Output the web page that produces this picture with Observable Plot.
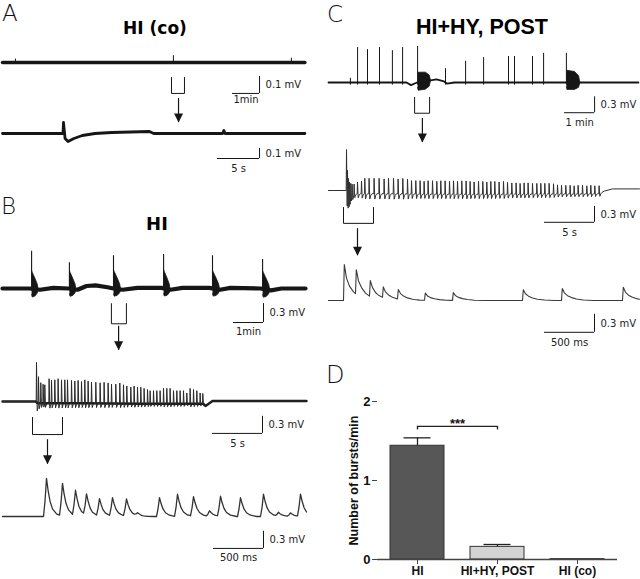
<!DOCTYPE html>
<html><head><meta charset="utf-8">
<script src="https://cdn.jsdelivr.net/npm/d3@7"></script>
<script src="https://cdn.jsdelivr.net/npm/@observablehq/plot@0.6"></script>
<style>
body{margin:0;background:#fff;}
#fig{position:relative;width:640px;height:579px;overflow:hidden;background:#fff;}
.lbl{position:absolute;font-family:"DejaVu Sans",sans-serif;font-weight:200;font-size:23px;line-height:1;color:#111;}
.ttl{position:absolute;font-weight:bold;line-height:1;color:#000;transform:translateX(-50%);white-space:nowrap;}
</style></head><body><div id="fig"></div>
<script>
// ---------------- DATA ----------------
// Panel D: bar chart
const groups = ["HI", "HI+HY, POST", "HI (co)"];
const burstsPerMin = [1.44, 0.16, 0.005];
const burstsSEM = [0.10, 0.03, 0];

// A1: HI (co), minutes / mV
const a1BaseTime = [0, 11.2];
const a1BasemV = [0, 0];
const a1TickTimes = [0.48, 6.33, 10.7];
const a1TickmV = [0.02, 0.04, 0.025];

// A2: HI (co), seconds / mV
const a2Time = [0, 7.2, 7.26, 7.45, 7.8, 8.5, 9.5, 11, 13, 17.5, 18, 26.2, 26.35, 26.5, 36];
const a2mV   = [0, 0, 0.11, -0.05, -0.08, -0.05, -0.02, 0, 0.01, 0.02, 0, 0, 0.03, 0, 0];

// B1: HI, minutes / mV
const b1BurstTimes = [0.97, 2.23, 3.7, 5.37, 7.0, 8.67];
const b1SpikemV = [0.59, 0.41, 0.52, 0.54, 0.52, 0.46];
const b1BlobTopmV = [0.29, 0.29, 0.3, 0.3, 0.29, 0.29];
const b1BlobBottommV = [-0.13, -0.12, -0.12, -0.12, -0.12, -0.13];
const b1BlobDur = [0.22, 0.22, 0.24, 0.22, 0.24, 0.24];
const b1BaseTime = [0, 0.9, 1.25, 1.7, 2.2, 2.5, 2.8, 3.1, 3.5, 3.7, 4.0, 4.5, 5.3, 5.6, 6.0, 6.9, 7.25, 7.6, 8.6, 8.95, 9.3, 10.1];
const b1BasemV = [0, 0, -0.02, 0.01, 0, -0.02, 0.04, 0.05, 0.02, 0, -0.02, 0.01, 0.01, -0.02, 0.01, 0.01, -0.02, 0.01, 0, -0.03, 0, 0];

// B2: HI burst, seconds / mV
const b2SpikeTimes = [3.37, 3.57, 3.8, 4.03, 4.2, 4.63, 4.87, 5.2, 5.53, 5.87, 6.2, 6.47, 6.87, 7.2, 7.53, 7.87, 8.2, 8.53, 8.87, 9.3, 9.73, 10.13, 10.53, 10.87, 11.3, 11.7, 12.07, 12.4, 12.8, 13.13, 13.47, 13.8, 14.13, 14.47, 14.73, 15.07, 15.4, 15.73, 16.07, 16.4, 16.73, 17.07, 17.4, 17.73, 18.07, 18.4, 18.73, 19.07, 19.4, 19.73, 20.0];
const b2SpikemV = [0.70, 0.49, 0.37, 0.34, 0.34, 0.43, 0.41, 0.41, 0.43, 0.41, 0.41, 0.41, 0.40, 0.39, 0.40, 0.38, 0.41, 0.39, 0.37, 0.37, 0.36, 0.37, 0.36, 0.34, 0.34, 0.36, 0.33, 0.31, 0.29, 0.31, 0.29, 0.29, 0.27, 0.25, 0.23, 0.23, 0.23, 0.23, 0.27, 0.27, 0.27, 0.23, 0.23, 0.23, 0.23, 0.19, 0.27, 0.25, 0.23, 0.19, 0.18];
const b2BaseTime = [0, 3.3, 3.5, 8, 14, 20.1, 20.3, 21, 30.4];
const b2BasemV = [0, 0, -0.03, -0.03, -0.04, -0.04, -0.08, 0.01, 0.01];

// B3: HI, milliseconds / mV
const b3PeakTimes = [440, 600, 730, 840, 970, 1100, 1240, 1350, 1570, 1750, 1910, 2070, 2180, 2380, 2610, 2760, 2880, 2980];
const b3PeakmV = [0.67, 0.58, 0.44, 0.37, 0.30, 0.32, 0.30, 0.05, 0.33, 0.39, 0.35, 0.10, 0.35, 0.33, 0.39, 0.07, 0.06, 0.39];
const b3BaseTime = [0, 3040];
const b3BasemV = [0, 0];

// C1: HI+HY POST, minutes / mV
const c1SpikeTimes = [0.73, 0.97, 1.3, 1.7, 2.13, 2.47, 2.97, 3.9, 4.57, 5.17, 6.0, 6.2, 6.8, 7.17, 7.93];
const c1SpikemV = [0.08, 0.66, 0.62, 0.66, 0.6, 0.66, 0.68, 0.26, 0.4, 0.47, 0.49, 0.49, 0.49, 0.55, 0.55];
const c1BurstTimes = [2.97, 7.93];
const c1BlobTopmV = [0.19, 0.23];
const c1BlobBottommV = [-0.15, -0.13];
const c1BlobDur = [0.43, 0.45];
const c1BaseTime = [0, 2.6, 2.75, 2.95, 3.4, 3.6, 3.85, 3.95, 4.2, 10.33];
const c1BasemV = [0, 0, -0.05, 0, 0.04, 0.06, 0.02, -0.02, 0, 0];

// C2: HI+HY POST burst, seconds / mV
const c2SpikeTimes = [1.77, 1.87, 1.97, 2.07, 2.2, 2.33, 2.53, 2.87, 3.27, 3.6, 4.03, 4.53, 5.03, 5.53, 5.97, 6.47, 6.93, 7.4, 7.87, 8.27, 8.7, 9.13, 9.53, 9.93, 10.37, 10.8, 11.2, 11.63, 12.07, 12.47, 12.87, 13.3, 13.73, 14.13, 14.53, 14.97, 15.4, 15.8, 16.2, 16.6, 17.03, 17.47, 17.87, 18.3, 18.73, 19.13, 19.53, 19.93, 20.37, 20.8, 21.2, 21.6, 22.03, 22.47, 22.87, 23.27, 23.7, 24.13, 24.53, 24.93, 25.37, 25.8, 26.2, 26.6, 27.03];
const c2SpikemV = [0.78, 0.62, 0.5, 0.4, 0.3, 0.25, 0.2, 0.22, 0.24, 0.29, 0.29, 0.29, 0.29, 0.28, 0.29, 0.29, 0.28, 0.29, 0.28, 0.25, 0.25, 0.25, 0.24, 0.25, 0.25, 0.24, 0.25, 0.25, 0.24, 0.25, 0.24, 0.25, 0.25, 0.24, 0.23, 0.24, 0.24, 0.23, 0.24, 0.24, 0.23, 0.24, 0.22, 0.21, 0.21, 0.2, 0.21, 0.21, 0.2, 0.2, 0.2, 0.2, 0.2, 0.19, 0.17, 0.16, 0.16, 0.16, 0.15, 0.16, 0.16, 0.15, 0.16, 0.15, 0.15];
const c2BaseTime = [0, 1.75, 2.1, 5, 15, 27.1, 27.6, 28.4, 31.1];
const c2BasemV = [0, 0, -0.06, -0.06, -0.07, -0.06, -0.01, 0.03, 0.03];

// C3: HI+HY POST, milliseconds / mV
const c3EventTimes = [150, 270, 410, 540, 690, 960, 1240, 1940, 2330, 2940];
const c3EventmV = [0.6, 0.41, 0.27, 0.18, 0.16, 0.12, 0.13, 0.18, 0.2, 0.22];
const c3BaseTime = [0, 3110];
const c3BasemV = [0, 0];

// Waveform templates: offsets and relative amplitude
const spikeKernelT_B2 = [0, 0.03, 0.1, 0.2, 0.3];
const spikeKernelV_B2 = [0, 1, -0.2, -0.05, 0];
const spikeKernelT_C2 = [0, 0.03, 0.1, 0.2, 0.32];
const spikeKernelV_C2 = [0, 1, -0.35, -0.1, 0];
const epspKernelT_B3 = [-30, -15, 0, 15, 35, 60, 100, 160];
const epspKernelV_B3 = [0, 0.4, 1, 0.7, 0.4, 0.2, 0.07, 0];
const epspKernelT_C3 = [0, 8, 30, 60, 100, 150, 220, 320];
const epspKernelV_C3 = [0, 1, 0.62, 0.4, 0.24, 0.12, 0.04, 0];
// burst envelopes: B1 tapers (decaying), C1 is box-like
const b1BlobF = [0, 0.1, 0.5, 0.85, 1];
const b1BlobTopShape = [1, 0.9, 0.6, 0.3, 0];
const b1BlobBotShape = [0.7, 1, 0.85, 0.45, 0];
const c1BlobF = [0, 0.04, 0.6, 0.9, 1];
const c1BlobTopShape = [1, 1, 0.9, 0.55, 0];
const c1BlobBotShape = [0.6, 1, 1, 0.7, 0];

// ---------------- DRAWING ----------------
const ink = "#161616";
const fig = document.getElementById("fig");
const traceFont = "DejaVu Sans, sans-serif";

function lerp(xs, ys, x) {
  const n = xs.length;
  if (x <= xs[0]) return ys[0];
  if (x >= xs[n - 1]) return ys[n - 1];
  const i = d3.bisectRight(xs, x);
  const x0 = xs[i - 1], x1 = xs[i];
  return ys[i - 1] + (ys[i] - ys[i - 1]) * (x - x0) / (x1 - x0);
}
function pts(ts, vs) { return ts.map((t, i) => ({t, v: vs[i]})); }
function sumTrace(baseT, baseV, evT, evA, kT, kV) {
  const set = new Set(baseT);
  evT.forEach(te => kT.forEach(k => set.add(+(te + k).toFixed(6))));
  const lo = baseT[0], hi = baseT[baseT.length - 1];
  const times = [...set].filter(t => t >= lo && t <= hi).sort((a, b) => a - b);
  return times.map(t => ({t, v: lerp(baseT, baseV, t) + d3.sum(evT, (te, i) => {
    const d = t - te;
    if (d < kT[0] || d > kT[kT.length - 1]) return 0;
    return evA[i] * lerp(kT, kV, d);
  })}));
}
// closed outline of each burst envelope (top edge forward, bottom edge back)
function blobPolys(times, tops, bottoms, durs, baseT, baseV, shapeF, shapeTop, shapeBot) {
  const rows = [];
  times.forEach((t0, i) => {
    const top = [], bot = [];
    shapeF.forEach((f, j) => {
      const t = t0 + f * durs[i];
      const b = lerp(baseT, baseV, t);
      top.push({k: i, t, v: b + tops[i] * shapeTop[j]});
      bot.push({k: i, t, v: b + bottoms[i] * shapeBot[j]});
    });
    rows.push(...top, ...bot.reverse());
  });
  return rows;
}
function mount(cfg, marks) {
  const {left, top, width, height, x0, kx, y0, ky} = cfg;
  const svg = Plot.plot({
    width, height, marginTop: 0, marginRight: 0, marginBottom: 0, marginLeft: 0,
    x: {type: "linear", domain: [(left - x0) / kx, (left + width - x0) / kx], axis: null},
    y: {type: "linear", domain: [(y0 - top - height) / ky, (y0 - top) / ky], axis: null},
    style: {background: "transparent", overflow: "visible"},
    marks
  });
  Object.assign(svg.style, {position: "absolute", left: left + "px", top: top + "px"});
  fig.appendChild(svg);
}
function scaleBar(sb) {
  const row = [sb];
  return [
    Plot.ruleY(row, {y: "v", x1: d => d.t - d.tLen, x2: "t", stroke: ink, strokeWidth: 1}),
    Plot.ruleX(row, {x: "t", y1: "v", y2: d => d.v + d.vLen, stroke: ink, strokeWidth: 1}),
    Plot.text(row, {x: "t", y: d => d.v + d.vLen / 2, text: "vLabel", dx: 6, textAnchor: "start", fontSize: 10, fontFamily: traceFont, fill: "#222"}),
    Plot.text(row, {x: d => d.t - d.tLen / 2, y: "v", text: "tLabel", dy: sb.gap, fontSize: 10, fontFamily: traceFont, fill: "#222"})
  ];
}
function bracket(b) {
  return Plot.line([[b.t1, b.vTop], [b.t1, b.vBot], [b.t2, b.vBot], [b.t2, b.vTop]],
    {x: d => d[0], y: d => d[1], stroke: ink, strokeWidth: 1});
}
const headDown = {draw(ctx) { ctx.moveTo(0, 0); ctx.lineTo(-4.5, -9); ctx.lineTo(4.5, -9); ctx.closePath(); }};
function arrow(a) {
  return [
    Plot.ruleX([a], {x: "t", y1: "v1", y2: "v2", stroke: ink, strokeWidth: 1.2}),
    Plot.dot([a], {x: "t", y: "v2", symbol: headDown, fill: ink, stroke: "none"})
  ];
}
function blobMark(rows) {
  return Plot.line(rows, {x: "t", y: "v", z: "k", fill: ink, stroke: ink, strokeWidth: 0.8});
}

// ---- A1
mount({left: 0, top: 40, width: 320, height: 85, x0: 2, kx: 27, y0: 62, ky: 170}, [
  Plot.line(pts(a1BaseTime, a1BasemV), {x: "t", y: "v", stroke: ink, strokeWidth: 3.4}),
  Plot.ruleX(pts(a1TickTimes, a1TickmV), {x: "t", y1: () => 0, y2: "v", stroke: ink, strokeWidth: 1}),
  bracket({t1: 6.26, t2: 6.74, vTop: -0.088, vBot: -0.182}),
  ...arrow({t: 6.52, v1: -0.212, v2: -0.353}),
  ...scaleBar({t: 9.52, v: -0.182, tLen: 1, vLen: 0.1, tLabel: "1min", vLabel: "0.1 mV", gap: 6})
]);
// ---- A2
mount({left: 0, top: 125, width: 320, height: 55, x0: 2, kx: 8.4, y0: 133, ky: 100}, [
  Plot.line(pts(a2Time, a2mV), {x: "t", y: "v", stroke: ink, strokeWidth: 2.8}),
  ...scaleBar({t: 30.6, v: -0.25, tLen: 5, vLen: 0.1, tLabel: "5 s", vLabel: "0.1 mV", gap: 10})
]);
// ---- B1
mount({left: 0, top: 235, width: 320, height: 115, x0: 2, kx: 30, y0: 288, ky: 63}, [
  Plot.line(pts(b1BaseTime, b1BasemV), {x: "t", y: "v", stroke: ink, strokeWidth: 4.2}),
  blobMark(blobPolys(b1BurstTimes, b1BlobTopmV, b1BlobBottommV, b1BlobDur, b1BaseTime, b1BasemV, b1BlobF, b1BlobTopShape, b1BlobBotShape)),
  Plot.ruleX(pts(b1BurstTimes, b1SpikemV), {x: "t", y1: () => 0, y2: "v", stroke: ink, strokeWidth: 1.1}),
  bracket({t1: 3.63, t2: 4.13, vTop: -0.24, vBot: -0.56}),
  ...arrow({t: 3.87, v1: -0.6, v2: -0.98}),
  ...scaleBar({t: 8.7, v: -0.54, tLen: 1, vLen: 0.3, tLabel: "1min", vLabel: "0.3 mV", gap: 9})
]);
// ---- B2
mount({left: 0, top: 350, width: 320, height: 115, x0: 2, kx: 10, y0: 401, ky: 57}, [
  Plot.line(pts(b2BaseTime, b2BasemV), {x: "t", y: "v", stroke: ink, strokeWidth: 2.4}),
  Plot.line(sumTrace(b2BaseTime, b2BasemV, b2SpikeTimes, b2SpikemV, spikeKernelT_B2, spikeKernelV_B2),
    {x: "t", y: "v", stroke: "#2a2a2a", strokeWidth: 1}),
  bracket({t1: 3.0, t2: 6.0, vTop: -0.28, vBot: -0.58}),
  ...arrow({t: 4.5, v1: -0.67, v2: -1.1}),
  ...scaleBar({t: 26, v: -0.56, tLen: 5, vLen: 0.3, tLabel: "5 s", vLabel: "0.3 mV", gap: 10})
]);
// ---- B3
mount({left: 0, top: 465, width: 320, height: 100, x0: 2, kx: 0.1, y0: 516, ky: 57}, [
  Plot.line(sumTrace(b3BaseTime, b3BasemV, b3PeakTimes, b3PeakmV, epspKernelT_B3, epspKernelV_B3),
    {x: "t", y: "v", stroke: "#333", strokeWidth: 1.3}),
  ...scaleBar({t: 2610, v: -0.56, tLen: 500, vLen: 0.3, tLabel: "500 ms", vLabel: "0.3 mV", gap: 9})
]);
// ---- C1
mount({left: 320, top: 40, width: 320, height: 105, x0: 328, kx: 30, y0: 82, ky: 53}, [
  Plot.line(pts(c1BaseTime, c1BasemV), {x: "t", y: "v", stroke: ink, strokeWidth: 1.8}),
  blobMark(blobPolys(c1BurstTimes, c1BlobTopmV, c1BlobBottommV, c1BlobDur, c1BaseTime, c1BasemV, c1BlobF, c1BlobTopShape, c1BlobBotShape)),
  Plot.ruleX(pts(c1SpikeTimes, c1SpikemV), {x: "t", y1: () => -0.05, y2: "v", stroke: ink, strokeWidth: 1}),
  bracket({t1: 2.87, t2: 3.37, vTop: -0.28, vBot: -0.58}),
  ...arrow({t: 3.13, v1: -0.68, v2: -1.13}),
  ...scaleBar({t: 8.87, v: -0.57, tLen: 1, vLen: 0.3, tLabel: "1 min", vLabel: "0.3 mV", gap: 10})
]);
// ---- C2
mount({left: 320, top: 145, width: 320, height: 110, x0: 328, kx: 10, y0: 190, ky: 53}, [
  Plot.line(sumTrace(c2BaseTime, c2BasemV, c2SpikeTimes, c2SpikemV, spikeKernelT_C2, spikeKernelV_C2),
    {x: "t", y: "v", stroke: "#303030", strokeWidth: 1}),
  bracket({t1: 1.5, t2: 4.5, vTop: -0.32, vBot: -0.62}),
  ...arrow({t: 2.9, v1: -0.72, v2: -1.23}),
  ...scaleBar({t: 26.6, v: -0.6, tLen: 5, vLen: 0.3, tLabel: "5 s", vLabel: "0.3 mV", gap: 10})
]);
// ---- C3
mount({left: 320, top: 255, width: 320, height: 100, x0: 328, kx: 0.1, y0: 300, ky: 60}, [
  Plot.line(sumTrace(c3BaseTime, c3BasemV, c3EventTimes, c3EventmV, epspKernelT_C3, epspKernelV_C3),
    {x: "t", y: "v", stroke: "#3a3a3a", strokeWidth: 1.1}),
  ...scaleBar({t: 2660, v: -0.53, tLen: 500, vLen: 0.3, tLabel: "500 ms", vLabel: "0.3 mV", gap: 10})
]);

// ---- D: bar chart
const dData = groups.map((g, i) => ({g, v: burstsPerMin[i], e: burstsSEM[i]}));
const dFont = "Liberation Sans, Arial, sans-serif";
const dPlot = Plot.plot({
  width: 320, height: 219, marginLeft: 57, marginRight: 23, marginTop: 41, marginBottom: 20,
  style: {background: "transparent", overflow: "visible", fontFamily: dFont, color: "#111"},
  x: {domain: groups, paddingInner: 0.325, paddingOuter: 0.15, axis: null},
  y: {domain: [0, 2], axis: null},
  color: {domain: groups, range: ["#575757", "#d3d3d3", "#ffffff"]},
  marks: [
    Plot.barY(dData, {x: "g", y: "v", fill: "g", stroke: "#333", strokeWidth: 1}),
    Plot.ruleX(dData.filter(d => d.e > 0), {x: "g", y1: "v", y2: d => d.v + d.e, stroke: "#222", strokeWidth: 1.3}),
    Plot.tickY(dData.filter(d => d.e > 0), {x: "g", y: d => d.v + d.e, insetLeft: 13.5, insetRight: 13.5, stroke: "#222", strokeWidth: 1.3}),
    Plot.ruleY([0], {stroke: "#444", strokeWidth: 1.3}),
    Plot.axisY({ticks: [0, 1, 2], tickFormat: "d", tickSize: 5, tickPadding: 2, fontSize: 13, fontWeight: "bold", label: null, line: true, stroke: "#444"}),
    Plot.axisX({tickSize: 5, tickPadding: 2, fontSize: 12, fontWeight: "bold", label: null, stroke: "#444"}),
    Plot.text(["Number of bursts/min"], {frameAnchor: "left", textAnchor: "middle", lineAnchor: "middle", rotate: -90, dx: -24, fontSize: 12.5, fontWeight: "bold", text: d => d}),
    Plot.ruleY([{a: groups[0], b: groups[1], y: 1.685}], {x1: "a", x2: "b", y: "y", insetLeft: 27, insetRight: 27, stroke: "#222", strokeWidth: 1.4}),
    Plot.ruleX([groups[0], groups[1]], {x: d => d, y1: () => 1.64, y2: () => 1.685, stroke: "#222", strokeWidth: 1.4}),
    Plot.text([{g: groups[0], y: 1.72}], {x: "g", y: "y", dx: 40, text: () => "***", fontSize: 13, fontWeight: "bold"})
  ]
});
Object.assign(dPlot.style, {position: "absolute", left: "320px", top: "360px"});
fig.appendChild(dPlot);

// ---- Panel letters and titles
function addDiv(cls, text, css) {
  const el = document.createElement("div");
  el.className = cls; el.textContent = text;
  Object.assign(el.style, css);
  fig.appendChild(el);
}
addDiv("lbl", "A", {left: "2px", top: "2px"});
addDiv("lbl", "B", {left: "1px", top: "195px"});
addDiv("lbl", "C", {left: "327px", top: "3px"});
addDiv("lbl", "D", {left: "326px", top: "363px", fontSize: "24px"});
addDiv("ttl", "HI (co)", {left: "155px", top: "20px", fontSize: "17px", fontFamily: "DejaVu Sans, sans-serif"});
addDiv("ttl", "HI", {left: "157px", top: "215px", fontSize: "18px", fontFamily: "DejaVu Sans, sans-serif"});
addDiv("ttl", "HI+HY, POST", {left: "482px", top: "17px", fontSize: "21.5px", fontFamily: "Liberation Sans, Arial, sans-serif"});
</script></body></html>
